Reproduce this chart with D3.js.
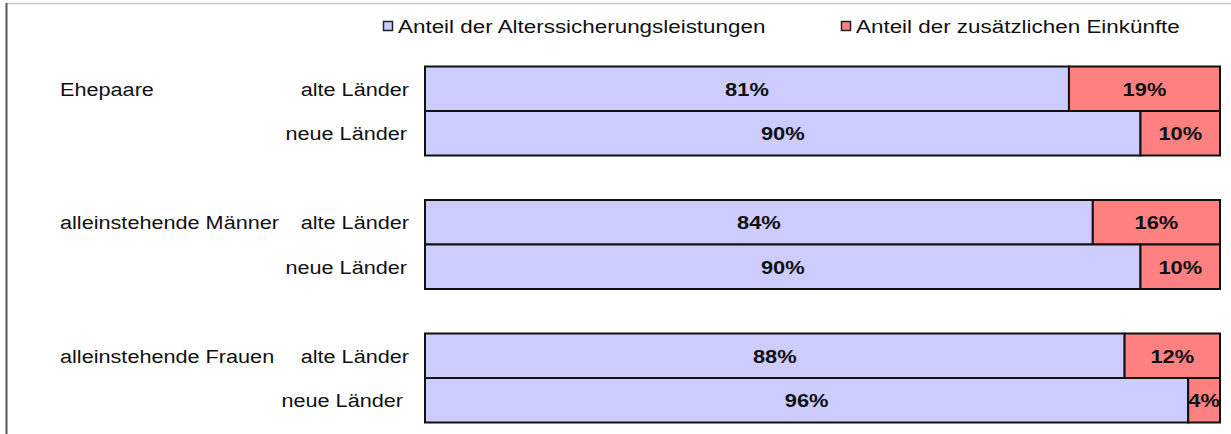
<!DOCTYPE html>
<html>
<head>
<meta charset="utf-8">
<script src="https://cdn.jsdelivr.net/npm/d3@7"></script>
<style>
  body { margin: 0; background: #fff; }
  svg { display: block; font-family: "Liberation Sans", Arial, sans-serif; }
</style>
</head>
<body>
<div id="chart"></div>
<script>
// groups, rows and shares (percent)
const groups = ["Ehepaare", "alleinstehende Männer", "alleinstehende Frauen"];
const regions = ["alte Länder", "neue Länder"];
const pension = [81, 90, 84, 90, 88, 96];
const extra = [19, 10, 16, 10, 12, 4];
const seriesNames = ["Anteil der Alterssicherungsleistungen", "Anteil der zusätzlichen Einkünfte"];
const colors = ["#ccccff", "#ff8080"];

const width = 1231, height = 434;

const svg = d3.select("#chart").append("svg")
  .attr("width", width)
  .attr("height", height);

// frame
svg.append("line").attr("x1", 6).attr("x2", width).attr("y1", 3.5).attr("y2", 3.5)
  .attr("stroke", "#c8c8c8").attr("stroke-width", 1.5);
svg.append("line").attr("x1", 6.5).attr("x2", 6.5).attr("y1", 3).attr("y2", height)
  .attr("stroke", "#555").attr("stroke-width", 2);

// rows: two per group with one empty slot between groups
const rows = [];
groups.forEach((g, gi) => {
  regions.forEach((r, ri) => {
    const k = gi * 2 + ri;
    rows.push({ group: g, region: r, slot: gi * 3 + ri, first: ri === 0,
                vals: [pension[k], extra[k]] });
  });
});

const x = d3.scaleLinear().domain([0, 100]).range([425, 1220]);
const y = d3.scaleBand().domain(d3.range(8)).range([66.5, 422.5]).padding(0);

// the source image is slightly stretched horizontally
function stretchedText(sel, tx, ty, anchor, sx) {
  return sel.append("g")
    .attr("transform", `translate(${tx},${ty}) scale(${sx},1)`)
    .append("text")
    .attr("text-anchor", anchor);
}

/* ─── Bars ─── */
rows.forEach(row => {
  let acc = 0;
  row.vals.forEach((v, i) => {
    const x0 = x(acc), x1 = x(acc + v);
    svg.append("rect")
      .attr("x", x0)
      .attr("y", y(row.slot))
      .attr("width", x1 - x0)
      .attr("height", y.bandwidth())
      .attr("fill", colors[i])
      .attr("stroke", "#111")
      .attr("stroke-width", 2);
    acc += v;
  });
});

// value labels on top of bars
rows.forEach(row => {
  let acc = 0;
  row.vals.forEach(v => {
    const cx = (x(acc) + x(acc + v)) / 2;
    stretchedText(svg, cx, y(row.slot) + y.bandwidth() / 2 + 7, "middle", 1.15)
      .attr("font-size", 19)
      .attr("font-weight", "bold")
      .attr("fill", "#111")
      .text(v + "%");
    acc += v;
  });
});

/* ─── Row labels ─── */
rows.forEach((row, i) => {
  const cy = y(row.slot) + y.bandwidth() / 2 + 7;
  const right = i === rows.length - 1 ? 403 : (row.first ? 409 : 407);
  stretchedText(svg, right, cy, "end", 1.14)
    .attr("font-size", 19)
    .attr("fill", "#111")
    .text(row.region);
  if (row.first) {
    stretchedText(svg, 60, cy, "start", 1.14)
      .attr("font-size", 19)
      .attr("fill", "#111")
      .text(row.group);
  }
});

/* ─── Legend ─── */
const legendX = [383, 841];
seriesNames.forEach((name, i) => {
  svg.append("rect")
    .attr("x", legendX[i] + 0.5)
    .attr("y", 21.5)
    .attr("width", 9)
    .attr("height", 9)
    .attr("fill", colors[i])
    .attr("stroke", "#222")
    .attr("stroke-width", 1.5);
  stretchedText(svg, legendX[i] + 15, 33, "start", 1.18)
    .attr("font-size", 19)
    .attr("fill", "#111")
    .text(name);
});
</script>
</body>
</html>
